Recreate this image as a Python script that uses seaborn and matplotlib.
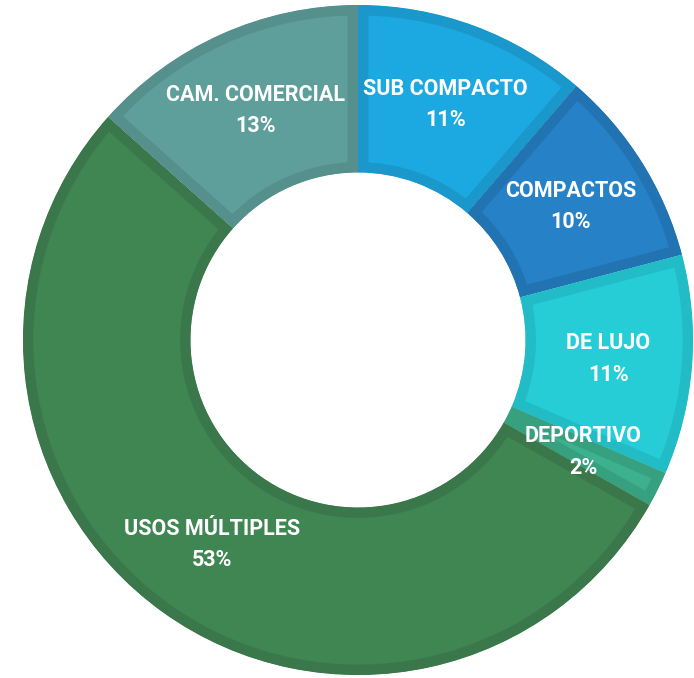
import numpy as np
import pandas as pd
import seaborn as sns
from matplotlib import pyplot as plt

categorias = ["SUB COMPACTO", "COMPACTOS", "DE LUJO", "DEPORTIVO", "USOS MÚLTIPLES", "CAM. COMERCIAL"]
valores = [11.3, 9.6, 10.6, 1.7, 53.4, 13.4]
colores = ["#1ca9e1", "#2781c6", "#26cdd6", "#3db18e", "#408653", "#5f9f9b"]
bordes = ["#1a98cb", "#2273b2", "#22bcc6", "#37a07f", "#3a784b", "#56908c"]

sns.set_theme(style="white")
plt.rcParams['font.family'] = ['Roboto', 'DejaVu Sans']

df = pd.DataFrame({'categoria': categorias, 'valor': valores})
total = df['valor'].sum()
etiquetas = [f"{c}\n{round(v / total * 100)}%" for c, v in zip(df['categoria'], df['valor'])]

fig = plt.figure(figsize=(6.94, 6.78), dpi=100)
ax = fig.add_axes([0, 0, 1, 1])

wedges, textos = ax.pie(
  df['valor'], labels=etiquetas, colors=colores, startangle=90, counterclock=False,
  radius=1.0, labeldistance=0.75,
  wedgeprops=dict(width=0.5),
  textprops=dict(ha='center', va='center', color='white', fontsize=15.5,
                 fontweight='bold', linespacing=1.55),
)

# borde interior mas oscuro en cada porcion (se recorta la mitad exterior del trazo)
for w, b in zip(wedges, bordes):
  w.set_edgecolor(b)
  w.set_linewidth(15)
  w.set_clip_on(True)
  w.set_clip_path(w.get_path(), w.get_transform())

ax.set_aspect('auto')
ax.set_xlim(-358 / 335, (694 - 358) / 335)
ax.set_ylim(-338 / 335, 340 / 335)
ax.axis('off')

fig.savefig('out.png', dpi=100)
